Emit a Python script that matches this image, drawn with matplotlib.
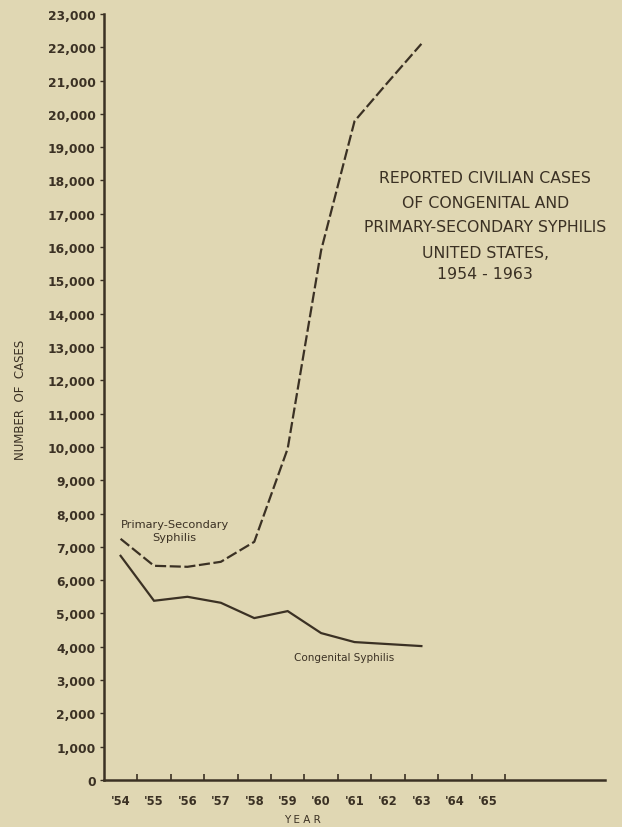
import matplotlib.pyplot as plt
from matplotlib.ticker import FixedLocator, FuncFormatter

# data (civilian cases, US)
years = ["'54", "'55", "'56", "'57", "'58", "'59", "'60", "'61", "'62", "'63", "'64", "'65"]
primary_secondary = [7240, 6430, 6400, 6550, 7150, 9950, 15900, 19780, 20950, 22100]
congenital = [6730, 5380, 5500, 5320, 4860, 5070, 4410, 4140, 4080, 4020]
y_ticks = list(range(0, 23001, 1000))

bg = "#e0d7b3"
ink = "#3b3124"

fig = plt.figure(figsize=(6.22, 8.28), dpi=100)
fig.patch.set_facecolor(bg)
ax = fig.add_axes([0.167, 0.0568, 0.806, 0.9252])
ax.set_facecolor(bg)

x = list(range(len(congenital)))
ax.plot(x, congenital, color=ink, lw=1.6, solid_joinstyle="miter")
ax.plot(x, primary_secondary, color=ink, lw=1.6, linestyle=(0, (5, 1.6)))

ax.set_xlim(-0.5, 14.5)
ax.set_ylim(0, 23000)

for s in ["top", "right"]:
    ax.spines[s].set_visible(False)
for s in ["left", "bottom"]:
    ax.spines[s].set_color(ink)
    ax.spines[s].set_linewidth(1.8)

# y axis
ax.yaxis.set_major_locator(FixedLocator(y_ticks))
ax.yaxis.set_major_formatter(FuncFormatter(lambda v, p: f"{int(v):,}"))
ax.tick_params(axis="y", direction="out", length=3, width=1, color=ink,
               labelcolor=ink, labelsize=8.8, pad=3)
for lab in ax.get_yticklabels():
    lab.set_fontweight("bold")

# x axis: ticks between years, labels on the years
ax.xaxis.set_major_locator(FixedLocator([i + 0.5 for i in range(len(years))]))
ax.xaxis.set_minor_locator(FixedLocator(list(range(len(years)))))
ax.xaxis.set_major_formatter(FuncFormatter(lambda v, p: ""))
ax.xaxis.set_minor_formatter(FuncFormatter(lambda v, p: years[int(round(v))]))
ax.tick_params(axis="x", which="major", direction="in", length=4, width=1.2, color=ink)
ax.tick_params(axis="x", which="minor", length=0, labelcolor=ink, labelsize=8.3, pad=10)
for lab in ax.get_xticklabels(minor=True):
    lab.set_fontweight("bold")

fig.text(0.486, 0.004, "Y E A R", ha="center", va="bottom", fontsize=7.5, color=ink)
fig.text(0.033, 0.517, "NUMBER  OF  CASES", rotation=90, ha="center", va="center",
         fontsize=8.5, color=ink)

ax.text(0.0, 7850, "Primary-Secondary\nSyphilis", ha="left", va="top", fontsize=8.2,
        color=ink, linespacing=1.45, multialignment="center")
ax.text(6.7, 3700, "Congenital Syphilis", ha="center", va="center", fontsize=7.5, color=ink)

title_lines = ["REPORTED CIVILIAN CASES", "OF CONGENITAL AND",
               "PRIMARY-SECONDARY SYPHILIS", "UNITED STATES,", "1954 - 1963"]
ty = [0.785, 0.754, 0.725, 0.694, 0.668]
for t, yy in zip(title_lines, ty):
    fig.text(0.78, yy, t, ha="center", va="center", fontsize=11.3, color=ink)

fig.savefig("out.png", dpi=100, facecolor=bg)
